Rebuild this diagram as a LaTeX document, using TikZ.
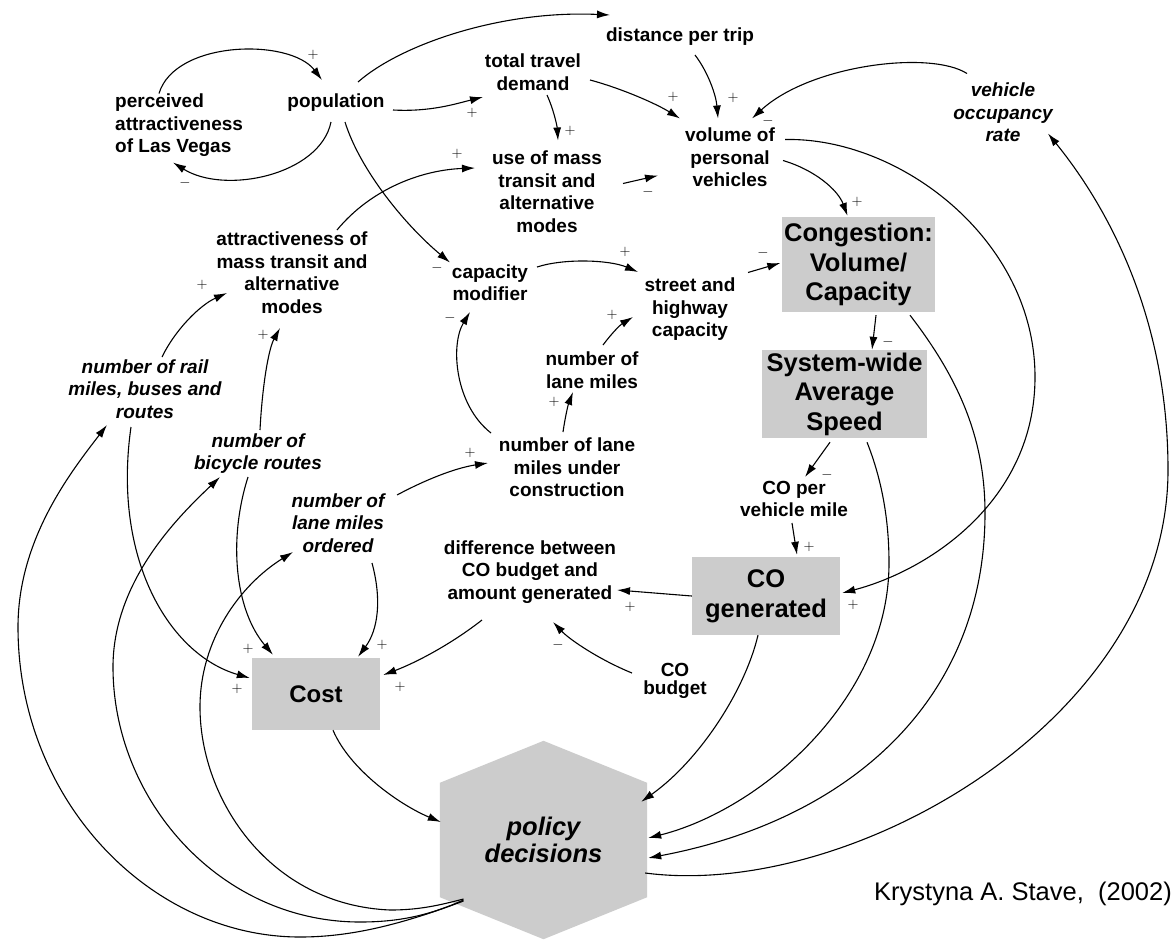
\documentclass[tikz,border=0pt]{standalone}
\usepackage{fontspec}
\setmainfont{Liberation Sans}
\usetikzlibrary{arrows.meta,calc,backgrounds}
\definecolor{boxgray}{HTML}{CCCCCC}
\newcommand{\dgLab}{\fontsize{19}{22.5}\selectfont\bfseries}
\newcommand{\dgItal}{\fontsize{19}{22.5}\selectfont\bfseries\itshape}
\newcommand{\dgBox}{\fontsize{25.5}{29.5}\selectfont\bfseries}
\newcommand{\dgPol}{\fontsize{25.5}{27}\selectfont\bfseries\itshape}
\newcommand{\dgCite}{\fontsize{25.5}{30}\selectfont}
\tikzset{
  lbl/.style={font=\dgLab, align=center, inner sep=0pt},
  ilbl/.style={font=\dgItal, align=center, inner sep=0pt},
  bigbox/.style={fill=boxgray, font=\dgBox, align=center, inner sep=0pt},
  sgn/.style={font=\fontsize{15}{15}\selectfont, inner sep=0pt},
  arr/.style={-{Latex[length=13pt,width=8pt]}, line width=1.1pt},
}
\begin{document}
\begin{tikzpicture}[x=1pt,y=-1pt]
\useasboundingbox (0,0) rectangle (1174,940);

% ---- variables ----
\node[lbl, align=left, anchor=west] (pav) at (115,125.5) {perceived\\attractiveness\\of Las Vegas};
\node[lbl] (pop) at (336,103) {population};
\node[lbl] (dpt) at (680,37) {distance per trip};
\node[lbl] (ttd) at (533,72) {total travel\\demand};
\node[lbl] (vpv) at (730,157.5) {volume of\\personal\\vehicles};
\node[ilbl] (vor) at (1003,112.5) {vehicle\\occupancy\\rate};
\node[lbl] (umt) at (547,191.5) {use of mass\\transit and\\alternative\\modes};
\node[lbl] (amt) at (292,272.5) {attractiveness of\\mass transit and\\alternative\\modes};
\node[lbl] (cm) at (490,282.5) {capacity\\modifier};
\node[lbl] (shc) at (690,309.5) {street and\\highway\\capacity};
\node[bigbox, minimum width=153pt, minimum height=95pt] (cong) at (858.5,264.5) {Congestion:\\Volume/\\Capacity};
\node[bigbox, minimum width=165pt, minimum height=88pt] (swas) at (844.5,394) {System-wide\\Average\\Speed};
\node[lbl] (nlm) at (592,370) {number of\\lane miles};
\node[ilbl] (rail) at (145,389) {number of rail\\miles, buses and\\routes};
\node[ilbl] (bic) at (258,453.5) {number of\\bicycle routes};
\node[lbl] (nlmuc) at (567,467.5) {number of lane\\miles under\\construction};
\node[ilbl] (nlmo) at (338,523) {number of\\lane miles\\ordered};
\node[lbl] (cpvm) at (794,499) {CO per\\vehicle mile};
\node[lbl] (diff) at (530,572) {difference between\\CO budget and\\amount generated};
\node[bigbox, minimum width=148pt, minimum height=78pt, font=\fontsize{25.5}{30}\selectfont\bfseries] (cog) at (766,596) {CO\\generated};
\node[bigbox, minimum width=128pt, minimum height=72pt, font=\fontsize{24}{28}\selectfont\bfseries] (cost) at (316,694) {Cost};
\node[lbl, font=\fontsize{19}{17.5}\selectfont\bfseries] (cob) at (675,681) {CO\\budget};
\node[font=\dgPol, align=center, inner sep=0pt, minimum width=207pt, minimum height=114pt] (pd) at (543.5,840) {policy\\decisions};
\node[font=\dgCite, anchor=base east, inner sep=0pt] (cite) at (1172,900) {Krystyna A. Stave, \ (2002)};

% hexagonal policy node and page background
\begin{scope}[on background layer]
  \fill[white] (0,0) rectangle (1174,940);
  \fill[boxgray] (pd.north west) -- ($(pd.north)+(0,-42)$) -- (pd.north east)
    -- (pd.south east) -- ($(pd.south)+(0,42)$) -- (pd.south west) -- cycle;
\end{scope}

% ---- causal links ----
\draw[arr] ($(pav.west)+(44,-32)$) .. controls (175,40) and (290,38) .. ($(pop)+(-14,-23)$);
\draw[arr] ($(pop)+(-5,19)$) .. controls (320,175) and (225,195) .. ($(pav.west)+(58,37)$);
\draw[arr] ($(pop)+(22,-21)$) .. controls (400,45) and (500,10) .. ($(dpt)+(-70,-22)$);
\draw[arr] ($(pop)+(57,7)$) .. controls (430,112) and (455,104) .. ($(ttd)+(-50,25)$);
\draw[arr] ($(pop)+(9,19)$) .. controls (360,170) and (405,225) .. ($(cm)+(-40,-20)$);
\draw[arr] ($(ttd)+(57,8)$) .. controls (620,88) and (655,103) .. ($(vpv)+(-50,-39)$);
\draw[arr] ($(dpt)+(15,18)$) .. controls (708,72) and (716,95) .. ($(vpv)+(-12,-39)$);
\draw[arr] ($(ttd)+(14,23)$) .. controls (553,108) and (557,125) .. ($(umt)+(11,-51)$);
\draw[arr] ($(umt)+(76,-8)$) -- ($(vpv)+(-72,18)$);
\draw[arr] ($(vor)+(-36,-39)$) .. controls (930,50) and (810,65) .. ($(vpv)+(22,-39)$);
\draw[arr] ($(vpv)+(53,3)$) .. controls (815,170) and (838,190) .. ($(cong.north)+(-11,-1)$);
\draw[arr] ($(vpv)+(55,-18)$) .. controls (900,137) and (1035,240) .. (1035,377)
  .. controls (1035,500) and (930,570) .. ($(cog.east)+(2,-3)$);
\draw[arr] ($(shc)+(58,-37)$) -- ($(cong.west)+(-1.5,-1.5)$);
\draw[arr] ($(cong.south)+(17.5,3)$) -- ($(swas.north)+(27.5,0)$);
\draw[arr] ($(cong.south)+(51.5,3)$) .. controls (960,380) and (985,440) .. (985,513)
  .. controls (985,700) and (850,820) .. ($(pd.east)+(1,18)$);
\draw[arr] ($(swas.south)+(22.5,4)$) .. controls (882,480) and (889,520) .. (889,563)
  .. controls (889,700) and (760,810) .. ($(pd.east)+(1,-2)$);
\draw[arr] ($(swas.south)+(-14.5,4)$) -- ($(cpvm)+(11,-22)$);
\draw[arr] ($(cpvm)+(-2,24)$) -- ($(cog.north)+(31,-2)$);
\draw[arr] (cog.west) -- ($(diff)+(87,18)$);
\draw[arr] ($(cob)+(-43,-8)$) .. controls (600,660) and (570,640) .. ($(diff)+(23,50)$);
\draw[arr] ($(cog.south)+(-8,0)$) .. controls (745,690) and (700,760) .. ($(pd.north east)+(-6,19)$);
\draw[arr] ($(pd.east)+(-2,33)$) .. controls (850,900) and (1168,720) .. (1168,470)
  .. controls (1168,320) and (1110,210) .. ($(vor)+(45,21)$);
\draw[arr] ($(pd)+(-80,61)$) .. controls (400,925) and (350,937) .. (300,937)
  .. controls (150,937) and (18,800) .. (18,627)
  .. controls (18,540) and (70,473) .. ($(rail)+(-38,36)$);
\draw[arr] ($(pd)+(-80,60)$) .. controls (430,915) and (400,922) .. (360,922)
  .. controls (220,922) and (113,800) .. (113,667)
  .. controls (113,580) and (180,515) .. ($(bic)+(-38,23.5)$);
\draw[arr] ($(pd)+(-80,59)$) .. controls (440,905) and (420,910) .. (390,910)
  .. controls (270,905) and (200,800) .. (200,707)
  .. controls (200,640) and (240,585) .. ($(nlmo)+(-45,29)$);
\draw[arr] ($(rail)+(-14,38)$) .. controls (112,560) and (170,655) .. ($(cost.west)+(-2,-16)$);
\draw[arr] ($(bic)+(-10,23.5)$) .. controls (228,540) and (235,610) .. ($(cost.north)+(-43,-3)$);
\draw[arr] ($(nlmo)+(34,40)$) .. controls (382,600) and (378,630) .. ($(cost.north)+(42,-1)$);
\draw[arr] ($(diff)+(-48,48)$) .. controls (450,645) and (415,663) .. ($(cost.east)+(3,-19)$);
\draw[arr] ($(cost.south)+(17,0)$) .. controls (350,770) and (400,805) .. ($(pd.west)+(1,-18)$);
\draw[arr] ($(nlmo)+(59,-28)$) .. controls (425,480) and (455,468) .. ($(nlmuc)+(-79,-4.5)$);
\draw[arr] ($(nlmuc)+(-4,-35.5)$) .. controls (565,418) and (568,405) .. ($(nlm)+(-19,22)$);
\draw[arr] ($(nlmuc)+(-76,-34.5)$) .. controls (455,405) and (450,345) .. ($(cm)+(-20,29.5)$);
\draw[arr] ($(nlm)+(11,-25)$) .. controls (612,333) and (620,325) .. ($(shc)+(-57,7.5)$);
\draw[arr] ($(cm)+(47,-15.5)$) .. controls (565,258) and (610,260) .. ($(shc)+(-52,-37.5)$);
\draw[arr] ($(amt)+(45,-42.5)$) .. controls (370,190) and (420,170) .. ($(umt)+(-72,-23.5)$);
\draw[arr] ($(rail)+(17,-32)$) .. controls (175,330) and (200,305) .. ($(amt)+(-65,20.5)$);
\draw[arr] ($(bic)+(2,-23.5)$) .. controls (262,390) and (268,350) .. ($(amt)+(-12,55.5)$);

% ---- link polarities ----
\foreach \p/\s [count=\i] in {
  (313,55)/+, (185,183)/-, (472,113)/+, (437,268)/-, (673,97)/+, (733,98)/+,
  (570,131)/+, (648,192)/-, (768,121)/-, (857,202)/+, (853,605)/+, (763,253)/-,
  (888,342)/-, (827,475)/-, (809,547)/+, (630,607)/+, (558,645)/-, (237,689)/+,
  (248,649)/+, (382,645)/+, (400,687)/+, (470,453)/+, (554,402)/+, (450,318)/-,
  (612,315)/+, (625,252)/+, (457,154)/+, (202,285)/+, (263,335)/+}
  \node[sgn] (sg\i) at \p {$\s$};
\end{tikzpicture}
\end{document}
